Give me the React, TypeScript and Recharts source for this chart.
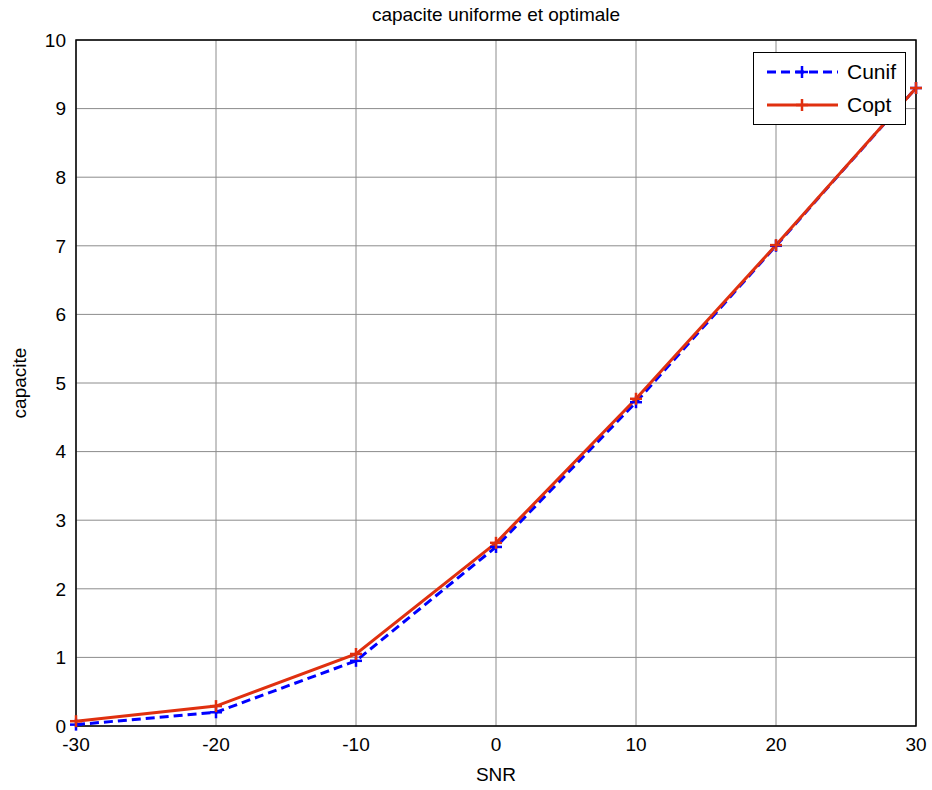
import React from 'react';
import {
  LineChart,
  Line,
  XAxis,
  YAxis,
  CartesianGrid,
  ReferenceArea,
} from 'recharts';

const snr = [-30, -20, -10, 0, 10, 20, 30];
const cunif = [0.02, 0.2, 0.95, 2.61, 4.72, 7.0, 9.3];
const copt = [0.07, 0.29, 1.05, 2.67, 4.77, 7.01, 9.3];
const xTicks = [-30, -20, -10, 0, 10, 20, 30];
const yTicks = [0, 1, 2, 3, 4, 5, 6, 7, 8, 9, 10];

const data = snr.map((s, i) => ({ snr: s, cunif: cunif[i], copt: copt[i] }));

const FONT = '"Liberation Sans", Arial, sans-serif';
const BLUE = '#0000ff';
const RED = '#e0300f';

const PlusDot = (color: string) => (props: any) => {
  const { cx, cy, index } = props;
  if (cx == null || cy == null) return null;
  return (
    <g key={`p-${color}-${index}`}>
      <line x1={cx - 6} y1={cy} x2={cx + 6} y2={cy} stroke={color} strokeWidth={2.5} />
      <line x1={cx} y1={cy - 6} x2={cx} y2={cy + 6} stroke={color} strokeWidth={2.5} />
    </g>
  );
};

const LegendBox = () => {
  const rows = [
    { name: 'Cunif', color: BLUE, dash: '9 5' },
    { name: 'Copt', color: RED, dash: undefined },
  ];
  return (
    <div
      style={{
        position: 'absolute',
        left: 753,
        top: 52,
        width: 151,
        height: 71,
        border: '1px solid #000',
        background: '#fff',
        fontFamily: FONT,
        fontSize: 21,
      }}
    >
      {rows.map((r, i) => (
        <div
          key={r.name}
          style={{ position: 'absolute', left: 0, top: i * 33 + 4, height: 30, display: 'flex', alignItems: 'center' }}
        >
          <svg width={93} height={30}>
            <line x1={13} y1={15} x2={84} y2={15} stroke={r.color} strokeWidth={3} strokeDasharray={r.dash} />
            <line x1={42} y1={15} x2={54} y2={15} stroke={r.color} strokeWidth={2.5} />
            <line x1={48} y1={9} x2={48} y2={21} stroke={r.color} strokeWidth={2.5} />
          </svg>
          <span style={{ color: '#000' }}>{r.name}</span>
        </div>
      ))}
    </div>
  );
};

export default function App() {
  return (
    <div style={{ position: 'absolute', left: 0, top: 0, width: 932, height: 790, background: '#fff' }}>
      <LineChart
        width={932}
        height={790}
        data={data}
        margin={{ top: 40, right: 16, left: 26, bottom: 24 }}
      >
        <CartesianGrid stroke="#8c8c8c" strokeWidth={1} />
        <XAxis
          dataKey="snr"
          type="number"
          domain={[-30, 30]}
          ticks={xTicks}
          height={40}
          tickLine={false}
          tickSize={0}
          tickMargin={12}
          axisLine={false}
          tick={{ fill: '#000', fontSize: 19, fontFamily: FONT }}
        />
        <YAxis
          type="number"
          domain={[0, 10]}
          ticks={yTicks}
          width={50}
          tickLine={false}
          tickSize={0}
          tickMargin={10}
          axisLine={false}
          tick={{ fill: '#000', fontSize: 19, fontFamily: FONT }}
        />
        <ReferenceArea x1={-30} x2={30} y1={0} y2={10} fill="none" stroke="#000" strokeWidth={1.5} ifOverflow="visible" />
        <Line
          type="linear"
          dataKey="cunif"
          name="Cunif"
          stroke={BLUE}
          strokeWidth={3}
          strokeDasharray="9 5"
          dot={PlusDot(BLUE)}
          activeDot={false}
          isAnimationActive={false}
        />
        <Line
          type="linear"
          dataKey="copt"
          name="Copt"
          stroke={RED}
          strokeWidth={3}
          dot={PlusDot(RED)}
          activeDot={false}
          isAnimationActive={false}
        />
      </LineChart>
      <LegendBox />
      <div
        style={{
          position: 'absolute',
          left: 76,
          width: 840,
          top: 4,
          textAlign: 'center',
          fontFamily: FONT,
          fontSize: 19,
          color: '#000',
        }}
      >
        capacite uniforme et optimale
      </div>
      <div
        style={{
          position: 'absolute',
          left: 76,
          width: 840,
          top: 764,
          textAlign: 'center',
          fontFamily: FONT,
          fontSize: 19,
          color: '#000',
        }}
      >
        SNR
      </div>
      <div
        style={{
          position: 'absolute',
          left: 20,
          top: 383,
          transform: 'translate(-50%, -50%) rotate(-90deg)',
          fontFamily: FONT,
          fontSize: 19,
          color: '#000',
          whiteSpace: 'nowrap',
        }}
      >
        capacite
      </div>
    </div>
  );
}
